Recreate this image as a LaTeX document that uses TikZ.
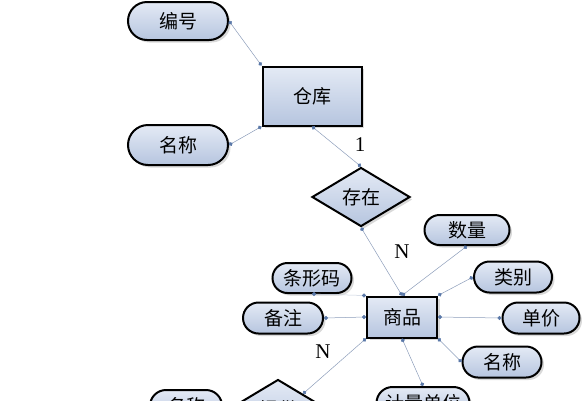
\documentclass[tikz,border=0pt]{standalone}
\usepackage{fontspec}
\setmainfont{Liberation Serif}
\newfontfamily\cjk{Noto Sans CJK SC}
\usetikzlibrary{shapes.geometric,shapes.misc,shadows,arrows.meta}
\definecolor{fillhell}{HTML}{E4EAF5}
\definecolor{filldunkel}{HTML}{B6C5DF}
\definecolor{linie}{HTML}{8C9DBA}
\definecolor{punkt}{HTML}{5A78A8}

\begin{document}
\begin{tikzpicture}[x=1pt, y=-1pt,
    schatten/.style={drop shadow={shadow xshift=2.5pt, shadow yshift=-2.5pt, opacity=0.3}},
    entitaet/.style={rectangle, draw, line width=2pt, top color=fillhell, bottom color=filldunkel,
        inner sep=0pt, font=\cjk\fontsize{19}{20}\selectfont, schatten},
    attribut/.style={rounded rectangle, draw, line width=2pt, top color=fillhell, bottom color=filldunkel,
        inner sep=0pt, minimum height=31pt, font=\cjk\fontsize{19}{20}\selectfont, schatten},
    beziehung/.style={diamond, draw, line width=2pt, top color=fillhell, bottom color=filldunkel,
        inner sep=0pt, aspect=1.66, minimum width=98pt, minimum height=59pt,
        font=\cjk\fontsize{19}{20}\selectfont, schatten},
    kante/.style={draw=linie, line width=0.5pt,
        arrows={Circle[length=4pt,color=punkt]-Circle[length=4pt,color=punkt]}},
    zahl/.style={font=\fontsize{21}{22}\selectfont, inner sep=0pt}]
  \useasboundingbox (0,0) rectangle (588,400);
  \clip (0,0) rectangle (588,400);
  % Entitaeten
  \node [entitaet, minimum width=99pt, minimum height=59pt] (cangku) at (312,96) {仓库};
  \node [entitaet, minimum width=70pt, minimum height=41pt] (shangpin) at (402,317) {商品};
  % Beziehungen
  \node [beziehung] (cunzai) at (361,197) {存在};
  \node [beziehung] (tigong) at (278,409) {提供};
  % Attribute
  \node [attribut, minimum width=100pt, minimum height=38pt] (bianhao) at (178,21) {编号};
  \node [attribut, minimum width=100pt, minimum height=40pt] (mingchengA) at (178,145) {名称};
  \node [attribut, minimum width=85pt, minimum height=30pt] (shuliang) at (467,230) {数量};
  \node [attribut, minimum width=78pt] (leibie) at (513,277) {类别};
  \node [attribut, minimum width=77pt] (danjia) at (541,318) {单价};
  \node [attribut, minimum width=79pt] (mingchengB) at (502,362) {名称};
  \node [attribut, minimum width=79pt, minimum height=30pt] (tiaoxingma) at (312,278) {条形码};
  \node [attribut, minimum width=80pt] (beizhu) at (283,318) {备注};
  \node [attribut, minimum width=72pt, minimum height=32pt] (mingchengC) at (186,406) {名称};
  \node [attribut, minimum width=93pt, minimum height=32pt] (jiliang) at (423,403) {计量单位};
  % Kanten
  \draw [kante] (bianhao.east) -- (cangku.north west);
  \draw [kante] (mingchengA.east) -- (cangku.south west);
  \draw [kante] (cangku.south) -- (cunzai.north);
  \draw [kante] (cunzai.south) -- (shangpin.north);
  \draw [kante] (shuliang.south) -- (shangpin.north);
  \draw [kante] (leibie.west) -- (shangpin.north east);
  \draw [kante] (danjia.west) -- (shangpin.east);
  \draw [kante] (mingchengB.west) -- (shangpin.south east);
  \draw [kante, draw=linie!50] (tiaoxingma.south) -- (shangpin.north west);
  \draw [kante] (beizhu.east) -- (shangpin.west);
  \draw [kante] (shangpin.south west) -- (tigong.north east);
  \draw [kante] (shangpin.south) -- (jiliang.north);
  % Kardinalitaeten
  \node [zahl] (eins) at (360,145) {1};
  \node [zahl] (nA) at (402,252) {N};
  \node [zahl] (nB) at (323,352) {N};
\end{tikzpicture}
\end{document}
